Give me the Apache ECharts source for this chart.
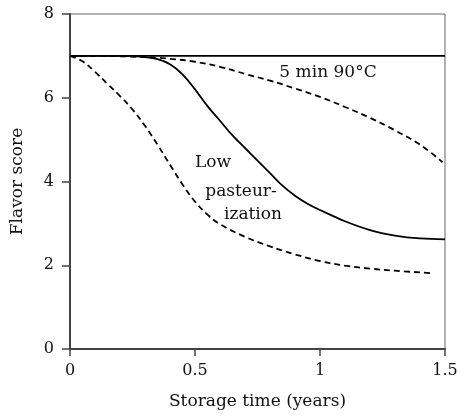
<!DOCTYPE html>
<html>
<head>
<meta charset="utf-8">
<script src="https://cdn.jsdelivr.net/npm/echarts@6/dist/echarts.min.js"></script>
<style>html,body{margin:0;padding:0;background:#fff}#c{width:460px;height:417px}</style>
</head>
<body>
<div id="c"></div>
<script>
// Data
const xTicks = [0, 0.5, 1, 1.5];
const yTicks = [0, 2, 4, 6, 8];
const controlX = [0, 1.5];
const controlY = [7, 7];
const hot5minX = [0, 0.1, 0.2, 0.3, 0.4, 0.5, 0.6, 0.7, 0.8, 0.9, 1.0, 1.1, 1.2, 1.3, 1.4, 1.49];
const hot5minY = [7, 7.0, 6.99, 6.97, 6.93, 6.86, 6.74, 6.57, 6.41, 6.22, 6.02, 5.78, 5.52, 5.22, 4.88, 4.46];
const lowPastX = [0, 0.1, 0.2, 0.25, 0.3, 0.35, 0.4, 0.45, 0.5, 0.55, 0.6, 0.65, 0.7, 0.75, 0.8, 0.85, 0.9, 0.95, 1.0, 1.1, 1.2, 1.3, 1.4, 1.5];
const lowPastY = [7, 7, 7, 6.99, 6.97, 6.92, 6.8, 6.56, 6.2, 5.8, 5.45, 5.1, 4.8, 4.5, 4.2, 3.9, 3.66, 3.47, 3.32, 3.05, 2.84, 2.71, 2.64, 2.62];
const lowerX = [0, 0.05, 0.1, 0.15, 0.2, 0.25, 0.3, 0.35, 0.4, 0.45, 0.5, 0.55, 0.6, 0.7, 0.8, 0.9, 1.0, 1.1, 1.2, 1.3, 1.45];
const lowerY = [7, 6.87, 6.62, 6.33, 6.04, 5.72, 5.33, 4.88, 4.4, 3.93, 3.52, 3.21, 2.98, 2.68, 2.45, 2.26, 2.1, 1.99, 1.92, 1.87, 1.81];
const annotations = ['5 min 90°C', 'Low', 'pasteur-', 'ization'];
const annotX = [1.032, 0.572, 0.684, 0.732];
const annotY = [6.61, 4.44, 3.75, 3.2];

const pair = (xs, ys) => xs.map((x, i) => [x, ys[i]]);
const FONT = 'DejaVu Serif';
const chart = echarts.init(document.getElementById('c'));
const lineBase = (data, dashed) => ({
  type: 'line', data, smooth: 0.4, symbol: 'none', silent: true,
  lineStyle: { color: '#000', width: 1.8, type: dashed ? [6, 4] : 'solid' }
});
chart.setOption({
  animation: false,
  grid: { left: 70, right: 15, top: 14, bottom: 68, show: true, borderColor: '#666', borderWidth: 1,
    containLabel: false, outerBoundsMode: 'none' },
  xAxis: {
    type: 'value', min: 0, max: 1.5, interval: 0.5,
    name: 'Storage time (years)', nameLocation: 'middle', nameGap: 44,
    nameTextStyle: { fontFamily: FONT, fontSize: 17, color: '#111' },
    axisLine: { show: true, lineStyle: { color: '#444', width: 2 } },
    axisTick: { show: true, length: 7, lineStyle: { color: '#444', width: 1.5 } },
    axisLabel: { fontFamily: FONT, fontSize: 16, color: '#111', margin: 14,
      formatter: v => xTicks.includes(v) ? String(v) : '' },
    splitLine: { show: false }
  },
  yAxis: {
    type: 'value', min: 0, max: 8, interval: 2,
    name: 'Flavor score', nameLocation: 'middle', nameGap: 44,
    nameTextStyle: { fontFamily: FONT, fontSize: 17, color: '#111' },
    axisLine: { show: true, lineStyle: { color: '#444', width: 2 } },
    axisTick: { show: true, length: 8, lineStyle: { color: '#444', width: 1.5 } },
    axisLabel: { fontFamily: FONT, fontSize: 16, color: '#111', margin: 16,
      formatter: v => yTicks.includes(v) ? String(v) : '' },
    splitLine: { show: false }
  },
  series: [
    lineBase(pair(controlX, controlY), false),
    lineBase(pair(hot5minX, hot5minY), true),
    lineBase(pair(lowPastX, lowPastY), false),
    lineBase(pair(lowerX, lowerY), true)
  ]
});
chart.setOption({
  graphic: annotations.map((t, i) => {
    const p = chart.convertToPixel({ gridIndex: 0 }, [annotX[i], annotY[i]]);
    return { type: 'text', x: p[0], y: p[1], silent: true,
      style: { text: t, fontFamily: FONT, fontSize: 17, fill: '#111', align: 'center', verticalAlign: 'middle' } };
  })
});
</script>
</body>
</html>
